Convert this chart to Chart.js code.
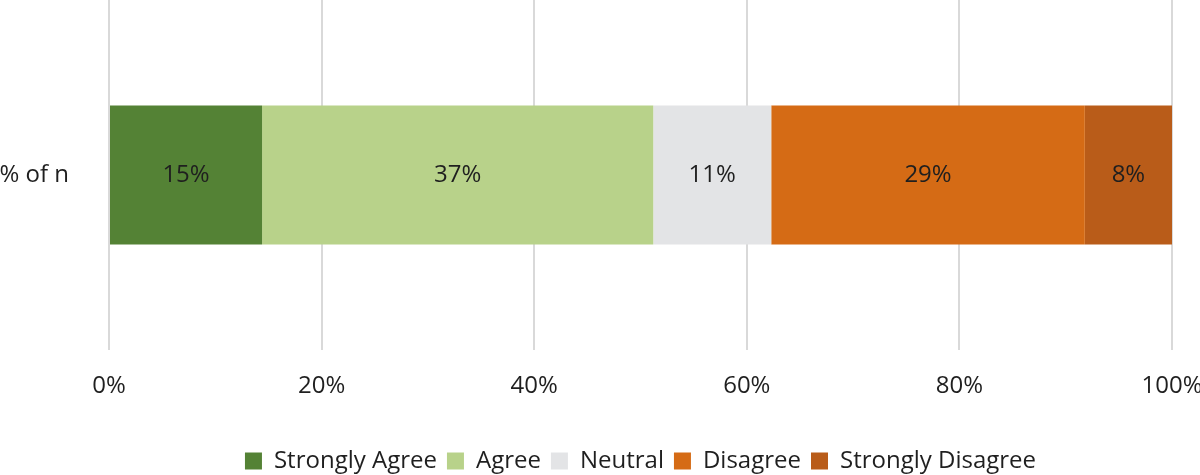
<!DOCTYPE html>
<html>
<head>
<meta charset="utf-8">
<script src="https://cdn.jsdelivr.net/npm/chart.js@4"></script>
<style>
  html, body { margin: 0; padding: 0; background: #fff; }
  #wrap { width: 1200px; height: 475px; position: relative; }
</style>
</head>
<body>
<div id="wrap"><canvas id="c"></canvas></div>
<script>
const categories = ["% of n"];
const seriesNames = ["Strongly Agree", "Agree", "Neutral", "Disagree", "Strongly Disagree"];
const seriesValues = [14.4, 36.8, 11.1, 29.5, 8.2];
const valueLabels = ["15%", "37%", "11%", "29%", "8%"];
const seriesColors = ["#548235", "#b8d28a", "#e3e4e6", "#d56b15", "#b95c19"];
const xTicks = [0, 20, 40, 60, 80, 100];

const FONT = "'Open Sans', 'DejaVu Sans', sans-serif";
const TEXT = "#1f1f1f";

const labelPlugin = {
  id: 'segLabels',
  afterDatasetsDraw(chart) {
    const ctx = chart.ctx;
    ctx.save();
    ctx.font = "24px " + FONT;
    ctx.fillStyle = TEXT;
    ctx.textAlign = 'center';
    ctx.textBaseline = 'middle';
    chart.data.datasets.forEach((ds, i) => {
      const meta = chart.getDatasetMeta(i);
      meta.data.forEach((bar) => {
        const cx = (bar.x + bar.base) / 2;
        ctx.fillText(valueLabels[i], cx, bar.y);
      });
    });
    ctx.restore();
  }
};

new Chart(document.getElementById('c'), {
  type: 'bar',
  data: {
    labels: categories,
    datasets: seriesNames.map((name, i) => ({
      label: name,
      data: [seriesValues[i]],
      backgroundColor: seriesColors[i],
      borderWidth: 0,
      categoryPercentage: 1,
      barPercentage: 0.397
    }))
  },
  options: {
    indexAxis: 'y',
    responsive: true,
    maintainAspectRatio: false,
    animation: false,
    layout: { padding: { left: 0, right: 0, top: 0, bottom: -8 } },
    plugins: {
      tooltip: { enabled: false },
      legend: {
        position: 'bottom',
        fullSize: false,
        labels: {
          boxWidth: 17,
          boxHeight: 17,
          padding: 10,
          color: TEXT,
          font: { family: FONT, size: 24 }
        }
      }
    },
    scales: {
      x: {
        stacked: true,
        min: 0,
        max: 100,
        afterBuildTicks(scale) { scale.ticks = xTicks.map(v => ({ value: v })); },
        afterFit(scale) {
          scale.height = 89;
          scale.paddingLeft = 0;
          scale.paddingRight = 28;
        },
        grid: { color: '#d9d9d9', lineWidth: 2, drawTicks: false },
        border: { display: false },
        ticks: {
          padding: 22,
          color: TEXT,
          font: { family: FONT, size: 24 },
          callback: v => v + '%'
        }
      },
      y: {
        stacked: true,
        afterFit(scale) {
          scale.width = 109;
          scale.paddingTop = 0;
          scale.paddingBottom = 0;
        },
        grid: { display: true, drawOnChartArea: false, drawTicks: true, tickLength: 40, color: 'rgba(0,0,0,0)' },
        border: { display: false },
        ticks: {
          padding: 0,
          color: TEXT,
          font: { family: FONT, size: 24 }
        }
      }
    }
  },
  plugins: [labelPlugin]
});
</script>
</body>
</html>
